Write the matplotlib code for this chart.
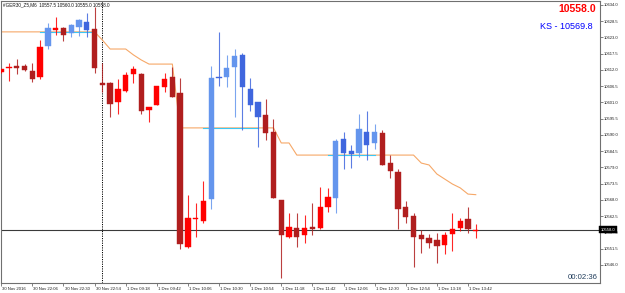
import numpy as np
import matplotlib
matplotlib.use("Agg")
import matplotlib.pyplot as plt
import matplotlib.transforms as mtransforms

# ---------------- data ----------------
opens = [10611.2, 10612.6, 10613.25, 10613.4, 10611.7, 10609.6, 10620.1, 10625.7, 10626.2, 10624.5,
         10626.55, 10628.25, 10625.9, 10607.6, 10607.6, 10601.2, 10604.9, 10610.6, 10610.6, 10598.5,
         10600.15, 10606.25, 10609.6, 10604.2, 10552.1, 10561.5, 10560.9, 10568.3, 10609.6, 10609.6,
         10613.0, 10617.1, 10605.6, 10601.2, 10596.8, 10591.0, 10568.0, 10555.5, 10558.5, 10556.15,
         10558.9, 10558.5, 10565.6, 10568.7, 10588.65, 10584.6, 10583.9, 10591.0, 10587.3, 10590.7,
         10580.5, 10577.5, 10565.6, 10562.6, 10556.15, 10555.1, 10554.5, 10552.8, 10556.5, 10558.5,
         10561.6, 10557.5]
highs = [10612.5, 10614.4, 10615.7, 10614.0, 10614.4, 10622.2, 10627.9, 10629.9, 10626.6, 10627.6,
         10629.3, 10631.3, 10633.3, 10614.4, 10607.8, 10609.0, 10611.3, 10613.35, 10611.0, 10599.6,
         10606.7, 10611.0, 10613.0, 10609.3, 10569.7, 10567.0, 10574.4, 10613.35, 10624.9, 10617.1,
         10619.1, 10617.75, 10609.3, 10601.3, 10602.2, 10595.4, 10568.1, 10563.6, 10563.6, 10562.9,
         10567.0, 10572.4, 10572.1, 10588.65, 10591.0, 10586.6, 10597.1, 10598.1, 10593.7, 10591.7,
         10583.2, 10578.5, 10567.7, 10563.6, 10557.85, 10556.5, 10556.8, 10557.2, 10563.6, 10561.9,
         10565.6, 10560.0]
lows = [10611.0, 10608.3, 10610.6, 10611.7, 10607.9, 10609.0, 10619.1, 10623.85, 10621.8, 10623.2,
        10623.5, 10623.2, 10611.0, 10604.55, 10596.1, 10597.1, 10604.55, 10607.6, 10597.1, 10594.4,
        10600.0, 10604.55, 10602.8, 10551.4, 10551.9, 10555.5, 10560.2, 10565.0, 10606.6, 10606.25,
        10596.1, 10591.7, 10598.1, 10585.9, 10588.3, 10568.6, 10541.6, 10555.1, 10552.1, 10553.45,
        10556.15, 10558.3, 10563.9, 10563.6, 10578.5, 10578.8, 10582.55, 10581.5, 10585.3, 10579.8,
        10575.45, 10558.2, 10560.2, 10545.3, 10550.06, 10551.75, 10546.7, 10549.7, 10550.7, 10557.5,
        10556.8, 10555.0]
closes = [10612.3, 10612.7, 10612.8, 10612.0, 10609.0, 10619.8, 10626.2, 10625.8, 10623.85, 10627.2,
          10628.9, 10625.5, 10612.7, 10606.9, 10600.5, 10605.6, 10610.3, 10612.3, 10598.1, 10599.5,
          10606.6, 10609.0, 10602.9, 10553.1, 10561.9, 10561.6, 10567.7, 10609.3, 10609.3, 10612.7,
          10616.7, 10606.25, 10600.15, 10596.1, 10590.7, 10568.7, 10556.15, 10558.9, 10555.5, 10558.5,
          10558.2, 10565.6, 10569.0, 10588.0, 10583.9, 10583.6, 10592.0, 10586.6, 10591.0, 10579.85,
          10577.8, 10565.0, 10562.2, 10555.5, 10554.8, 10553.45, 10552.4, 10556.15, 10558.2, 10560.9,
          10558.2, 10558.0]
blue_bars = [6, 9, 10, 11, 27, 28, 29, 30, 31, 32, 33, 43, 44, 45, 46, 47, 48]

kijun = [10624.9] * 13 + [10622.15, 10619.1, 10619.1, 10619.1, 10617.1, 10615.4,
         10614.0, 10614.0, 10614.0, 10614.0] + [10592.4] * 13 + [10587.3, 10587.3] + \
        [10583.2] * 16 + [10580.5, 10579.85, 10576.8, 10575.1, 10573.4, 10572.1, 10570.0, 10569.8]
cyan_segments = [(5, 12, 10624.9), (26, 33, 10592.4), (42, 48, 10583.2)]

xtick_labels = ["30 Nov 2016", "30 Nov 22:06", "30 Nov 22:30", "30 Nov 22:54", "1 Dec 09:18",
                "1 Dec 09:42", "1 Dec 10:06", "1 Dec 10:30", "1 Dec 10:54", "1 Dec 11:18",
                "1 Dec 11:42", "1 Dec 12:06", "1 Dec 12:30", "1 Dec 12:54", "1 Dec 13:18",
                "1 Dec 13:42"]
ytick_values = [10634.0, 10628.5, 10623.0, 10617.5, 10612.0, 10606.5, 10601.0, 10595.5, 10590.0,
                10584.5, 10579.0, 10573.5, 10568.0, 10562.5, 10557.0, 10551.5, 10546.0]
last_price = 10558.0
ks_value = 10569.8
header = "#GER30_Z5,M6  10557.5 10560.0 10555.0 10558.0"
vline_bar = 13

# ---------------- figure ----------------
plt.rcParams['font.family'] = ['Liberation Sans', 'DejaVu Sans']
W, H = 625, 293
fig = plt.figure(figsize=(W / 100, H / 100), dpi=100)
fig.patch.set_facecolor("white")
ax = fig.add_axes([1 / W, (H - 282.6) / H, 599 / W, 281.6 / H])

n = len(opens)
x = np.arange(n)
O = np.array(opens); C = np.array(closes); Hh = np.array(highs); L = np.array(lows)

BULL, BEAR = "#FF0000", "#B01E1E"
LBLUE, DBLUE = "#6495ED", "#3F66DE"
for i in range(n):
    bull = C[i] >= O[i]
    if i in blue_bars:
        col = LBLUE if bull else DBLUE
    else:
        col = BULL if bull else BEAR
    ax.vlines(x[i], L[i], Hh[i], color=col, lw=0.8, alpha=0.85, zorder=3)
    lo = min(O[i], C[i]); h = max(abs(C[i] - O[i]), 0.35)
    ax.bar(x[i], h, bottom=lo, width=0.68, color=col, edgecolor=col, lw=0.3, zorder=4)

ax.plot(x, kijun, color="#F6A868", lw=0.8, zorder=2)
for a, b, v in cyan_segments:
    ax.plot([a, b], [v, v], color="#3CC8F4", lw=0.8, zorder=2.5)

ax.axhline(last_price, color="#3A3A3A", lw=0.8, zorder=1.5)
ax.axvline(vline_bar, color="black", lw=0.7, ls=(0, (1.2, 1.2)), zorder=1.5)

ax.set_xlim(-0.026, 76.97)
ax.set_ylim(10540.04, 10635.35)

for s in ax.spines.values():
    s.set_color("#707070"); s.set_linewidth(0.8)

# x ticks
xt = np.arange(0, n, 4)
ax.set_xticks(xt)
ax.set_xticklabels([])
ax.tick_params(axis="x", direction="out", length=2.5, width=0.5, color="#505050")
for xi, lab in zip(xt, xtick_labels):
    ax.annotate(lab, xy=(xi, 0), xycoords=("data", "axes fraction"), xytext=(0.8, -4.3),
                textcoords="offset points", fontsize=3.1, ha="left", va="center", color="#202020")

# y ticks on right
ax.yaxis.tick_right()
ax.set_yticks(ytick_values)
ax.set_yticklabels([f"{v:.1f}" for v in ytick_values])
ax.tick_params(axis="y", direction="out", length=1.8, width=0.5, color="#505050",
               labelsize=3.0, pad=1.2, labelcolor="#202020")

trans = mtransforms.blended_transform_factory(ax.transAxes, ax.transData)
ax.text(1.0015, last_price, f"{last_price:.1f}", transform=trans, fontsize=3.0, color="white",
        ha="left", va="center", zorder=10,
        bbox=dict(boxstyle="square,pad=0.35", fc="black", ec="black", lw=0.3))

fig.text(3 / W, 1 - 5 / H, header, fontsize=3.3, ha="left", va="center", color="#101010")
fig.text(596 / W, 1 - 9.5 / H, f"{last_price:.1f}", fontsize=7.5, fontweight="bold",
         ha="right", va="center", color="#FF0000")
fig.text(593 / W, 1 - 26.5 / H, f"KS - {ks_value:.1f}", fontsize=6.5, ha="right", va="center",
         color="#0000FF")
fig.text(598 / W, 1 - 277.5 / H, "00:02:36", fontsize=5.6, ha="right", va="center", color="#24405E")

fig.savefig("out.png", dpi=100, facecolor="white")
